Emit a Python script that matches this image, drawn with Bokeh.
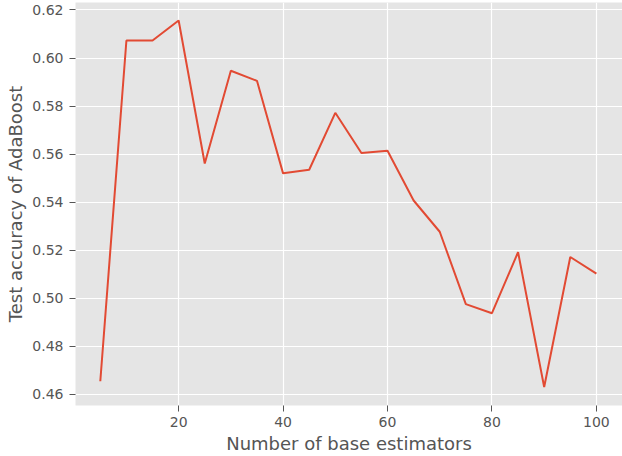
from bokeh.plotting import figure
from bokeh.models import FixedTicker, PrintfTickFormatter, Range1d
from bokeh.embed import file_html
from bokeh.resources import INLINE

n_estimators = [5, 10, 15, 20, 25, 30, 35, 40, 45, 50,
                55, 60, 65, 70, 75, 80, 85, 90, 95, 100]
accuracy = [0.4655, 0.6073, 0.6073, 0.6156, 0.5561, 0.5947, 0.5905, 0.5520, 0.5535, 0.5772,
            0.5605, 0.5614, 0.5407, 0.5277, 0.4976, 0.4938, 0.5192, 0.4631, 0.5172, 0.5103]
x_ticks = [20, 40, 60, 80, 100]
y_ticks = [0.46, 0.48, 0.50, 0.52, 0.54, 0.56, 0.58, 0.60, 0.62]

FONT = "DejaVu Sans"
TXT = "#555555"

p = figure(width=622, height=456, output_backend="svg", toolbar_location=None,
           x_range=Range1d(0.25, 105.0), y_range=Range1d(0.4554, 0.6231),
           min_border_left=75, min_border_right=0, min_border_top=2, min_border_bottom=10)

p.background_fill_color = "#E5E5E5"
p.border_fill_color = "white"
p.outline_line_color = None

p.line(n_estimators, accuracy, line_color="#E24A33", line_width=2)

p.xaxis.ticker = FixedTicker(ticks=x_ticks)
p.yaxis.ticker = FixedTicker(ticks=y_ticks)
p.yaxis.formatter = PrintfTickFormatter(format="%.2f")

for ax in (p.xaxis, p.yaxis):
    ax.axis_line_color = None
    ax.major_tick_line_color = TXT
    ax.major_tick_line_width = 1
    ax.major_tick_in = 0
    ax.major_tick_out = 6
    ax.minor_tick_line_color = None
    ax.major_label_text_font = FONT
    ax.major_label_text_font_size = "14px"
    ax.major_label_text_color = TXT
    ax.axis_label_text_font = FONT
    ax.axis_label_text_font_size = "18px"
    ax.axis_label_text_font_style = "normal"
    ax.axis_label_text_color = TXT

p.xaxis.major_label_standoff = 5
p.xaxis.axis_label_standoff = 3
p.yaxis.major_label_standoff = 6
p.yaxis.axis_label_standoff = 3

p.xaxis.axis_label = "Number of base estimators"
p.yaxis.axis_label = "Test accuracy of AdaBoost"

p.xgrid.grid_line_color = "white"
p.ygrid.grid_line_color = "white"
p.xgrid.grid_line_width = 1.2
p.ygrid.grid_line_width = 1.2

open("out.html", "w").write(file_html(p, INLINE))
